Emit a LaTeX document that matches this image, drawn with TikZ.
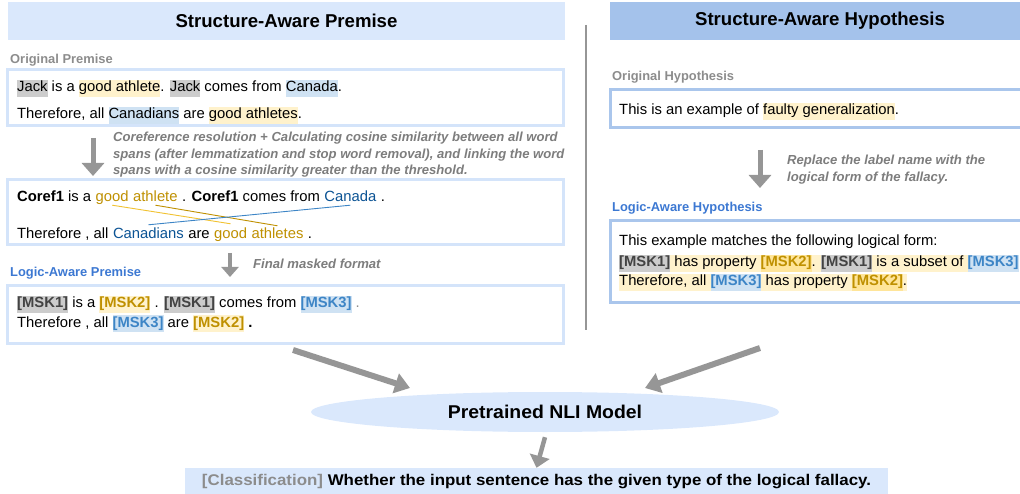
\documentclass[tikz,border=0pt]{standalone}
\usepackage{fontspec}
\setmainfont{Liberation Sans}
\usetikzlibrary{positioning,calc,shapes.geometric,arrows.meta}

\definecolor{HeadLight}{RGB}{218,232,252}
\definecolor{HeadDark}{RGB}{164,194,235}
\definecolor{BoxLight}{RGB}{212,228,250}
\definecolor{BoxDark}{RGB}{170,198,236}
\definecolor{LabelGray}{RGB}{140,140,140}
\definecolor{NoteGray}{RGB}{125,125,125}
\definecolor{LabelBlue}{RGB}{60,120,210}
\definecolor{ArrowGray}{RGB}{150,150,150}
\definecolor{HlGray}{RGB}{204,204,204}
\definecolor{HlYellow}{RGB}{255,242,204}
\definecolor{HlYellowDark}{RGB}{255,229,153}
\definecolor{HlBlue}{RGB}{207,226,243}
\definecolor{MskGray}{RGB}{67,67,67}
\definecolor{MskGold}{RGB}{191,144,0}
\definecolor{MskBlue}{RGB}{61,133,198}
\definecolor{LinkYellow}{RGB}{241,194,50}
\definecolor{LinkBlue}{RGB}{11,83,148}

\newcommand{\hl}[2]{{\setlength{\fboxsep}{0pt}\colorbox{#1}{\strut #2}}}
\newcommand{\msk}[3]{{\setlength{\fboxsep}{0pt}\colorbox{#1}{\strut\textbf{\color{#2}#3}}}}

\tikzset{%
  header/.style={%
    text=black, font=\fontsize{18.6}{20}\selectfont\bfseries,
    minimum height=38pt, inner sep=0pt
  },
  lbox/.style={draw=BoxLight, line width=3pt, fill=white, minimum width=556pt, inner sep=0pt},
  rbox/.style={draw=BoxDark, line width=3pt, fill=white, minimum width=420pt, inner sep=0pt},
  txt/.style={anchor=base west, inner sep=0pt, font=\fontsize{14.8}{17}\selectfont},
  word/.style={txt, text height=11pt, text depth=3pt},
  sublabel/.style={anchor=base west, inner sep=0pt, font=\fontsize{12.9}{14}\selectfont\bfseries},
  note/.style={%
    anchor=north west, inner sep=0pt, align=left, text=NoteGray,
    font=\fontsize{13.1}{16.5}\selectfont\bfseries\itshape
  },
  down/.style={ArrowGray, line width=5pt, -{Triangle[width=22pt,length=13pt]}},
  big/.style={ArrowGray, line width=6pt, -{Triangle[width=20pt,length=15pt]}},
  link/.style={line width=0.9pt},
}

\begin{document}
\begin{tikzpicture}[x=1pt, y=-1pt]
    \useasboundingbox (0,0) rectangle (1020,494);

    % headers
    \node[header, fill=HeadLight, minimum width=557pt] (premHead) at (286.5,21) {Structure-Aware Premise};
    \node[header, fill=HeadDark, minimum width=420pt] (hypHead) at (820,21) {Structure-Aware Hypothesis};

    % premise side
    \node[sublabel, text=LabelGray] (origPLabel) at (10,64) {Original Premise};
    \node[lbox, minimum height=56pt] (origP) at (285,98) {};
    \node[txt] (origP1) at (17,92) {\hl{HlGray}{Jack} is a \hl{HlYellow}{good athlete}. \hl{HlGray}{Jack} comes from \hl{HlBlue}{Canada}.};
    \node[txt] (origP2) at (17,119) {Therefore, all \hl{HlBlue}{Canadians} are \hl{HlYellow}{good athletes}.};

    \coordinate (corefFrom) at (93,138);
    \coordinate (corefTo) at (93,176);
    \draw[down] (corefFrom) -- (corefTo);
    \node[note] (corefNote) at (113,132) {Coreference resolution + Calculating cosine similarity between all word\\
        spans (after lemmatization and stop word removal), and linking the word\\
        spans with a cosine similarity greater than the threshold.};

    \node[lbox, minimum height=65pt] (coref) at (285,212.5) {};
    \begin{scope}[node distance=4.1pt]
        \node[word] (cfA) at (17,202) {\textbf{Coref1} is a};
        \node[word, base right=of cfA, text=MskGold] (good1) {good};
        \node[word, base right=of good1, text=MskGold] (ath1) {athlete};
        \node[word, base right=of ath1] (cfB) {. \textbf{Coref1} comes from};
        \node[word, base right=of cfB, text=LinkBlue] (can1) {Canada};
        \node[word, base right=of can1] (cfC) {.};
        \node[word] (trA) at (17,239) {Therefore , all};
        \node[word, base right=of trA, text=LinkBlue] (can2) {Canadians};
        \node[word, base right=of can2] (trB) {are};
        \node[word, base right=of trB, text=MskGold] (good2) {good};
        \node[word, base right=of good2, text=MskGold] (ath2) {athletes};
        \node[word, base right=of ath2] (trC) {.};
    \end{scope}
    \draw[link, LinkYellow] (good1.south) -- ([yshift=4pt]good2.north);
    \draw[link, MskGold] (ath1.south) -- ([yshift=2pt]ath2.north);
    \draw[link, MskBlue] ([yshift=3pt]can2.north) -- (can1.south);

    \coordinate (maskFrom) at (230,253);
    \coordinate (maskTo) at (230,277);
    \draw[down, line width=4pt, -{Triangle[width=17pt,length=10pt]}] (maskFrom) -- (maskTo);
    \node[note] (maskNote) at (253,259) {Final masked format};

    \node[sublabel, text=LabelBlue] (logicPLabel) at (10,277) {Logic-Aware Premise};
    \node[lbox, minimum height=57pt] (logicP) at (285,314.5) {};
    \node[txt] (logicP1) at (17,308) {\msk{HlGray}{MskGray}{[MSK1]} is a \msk{HlYellow}{MskGold}{[MSK2]} . \msk{HlGray}{MskGray}{[MSK1]} comes from \msk{HlBlue}{MskBlue}{[MSK3]} {\color{LabelGray}.}};
    \node[txt] (logicP2) at (17,327) {Therefore , all \msk{HlBlue}{MskBlue}{[MSK3]} are \msk{HlYellow}{MskGold}{[MSK2]} \textbf{.}};

    % divider
    \draw[ArrowGray, line width=1.2pt] (586,25) -- (586,330);

    % hypothesis side
    \node[sublabel, text=LabelGray] (origHLabel) at (612,81) {Original Hypothesis};
    \node[rbox, minimum height=38pt] (origH) at (820,109) {};
    \node[txt] (origH1) at (619,115) {This is an example of \hl{HlYellow}{faulty generalization}.};

    \coordinate (formFrom) at (760,150);
    \coordinate (formTo) at (760,188);
    \draw[down] (formFrom) -- (formTo);
    \node[note] (formNote) at (787,155) {Replace the label name with the\\logical form of the fallacy.};

    \node[sublabel, text=LabelBlue] (logicHLabel) at (612,212) {Logic-Aware Hypothesis};
    \node[rbox, minimum height=82pt] (logicH) at (820,262) {};
    \node[txt] (logicH1) at (619,246) {This example matches the following logical form:};
    \node[txt] (logicH2) at (619,267) {\hl{HlYellow}{\msk{HlGray}{MskGray}{[MSK1]} has property \msk{HlYellowDark}{MskGold}{[MSK2]}. \msk{HlGray}{MskGray}{[MSK1]} is a subset of \msk{HlBlue}{MskBlue}{[MSK3]}}};
    \node[txt] (logicH3) at (619,286) {\hl{HlYellow}{Therefore, all \msk{HlBlue}{MskBlue}{[MSK3]} has property \msk{HlYellowDark}{MskGold}{[MSK2]}.}};

    % model and output
    \node[ellipse, fill=HeadLight, minimum width=468pt, minimum height=40pt, inner sep=0pt,
        font=\fontsize{18.5}{20}\selectfont\bfseries] (nli) at (545,412) {\scalebox{1.05}[1]{Pretrained NLI Model}};
    \coordinate (premOut) at (293,350);
    \coordinate (nliInL) at (410,388);
    \coordinate (hypOut) at (760,348);
    \coordinate (nliInR) at (645,388);
    \draw[big] (premOut) -- (nliInL);
    \draw[big] (hypOut) -- (nliInR);

    \node[fill=HeadLight, minimum width=703pt, minimum height=28pt, inner sep=0pt,
        font=\fontsize{15.5}{17}\selectfont\bfseries] (result) at (536.5,482)
        {\scalebox{1.09}[1]{{\color{LabelGray}[Classification]} Whether the input sentence has the given type of the logical fallacy.}};
    \draw[down, line width=4.5pt, -{Triangle[width=20pt,length=12pt]}] ([yshift=-5pt]nli.south) -- (result.north);
\end{tikzpicture}
\end{document}
